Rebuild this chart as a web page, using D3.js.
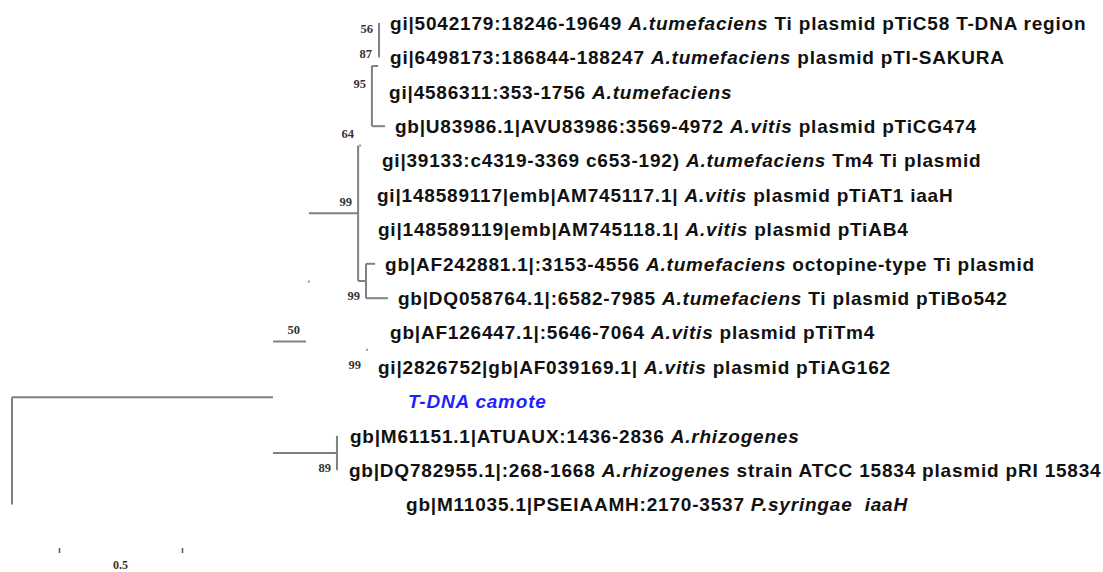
<!DOCTYPE html>
<html>
<head>
<meta charset="utf-8">
<script src="https://cdn.jsdelivr.net/npm/d3@7"></script>
<style>
  html, body { margin: 0; padding: 0; background: #fff; }
  svg { display: block; }
  text.leaf { white-space: pre; }
</style>
</head>
<body>
<svg id="chart" width="1103" height="572"></svg>
<script>
// ---------------- DATA ----------------
// Leaf labels, top to bottom. Segments alternate: normal, italic, normal, ...
const leafLabels = [
  ["gi|5042179:18246-19649 ", "A.tumefaciens", " Ti plasmid pTiC58 T-DNA region"],
  ["gi|6498173:186844-188247 ", "A.tumefaciens", " plasmid pTI-SAKURA"],
  ["gi|4586311:353-1756 ", "A.tumefaciens"],
  ["gb|U83986.1|AVU83986:3569-4972 ", "A.vitis", " plasmid pTiCG474"],
  ["gi|39133:c4319-3369 c653-192) ", "A.tumefaciens", " Tm4 Ti plasmid"],
  ["gi|148589117|emb|AM745117.1| ", "A.vitis", " plasmid pTiAT1 iaaH"],
  ["gi|148589119|emb|AM745118.1| ", "A.vitis", " plasmid pTiAB4"],
  ["gb|AF242881.1|:3153-4556 ", "A.tumefaciens", " octopine-type Ti plasmid"],
  ["gb|DQ058764.1|:6582-7985 ", "A.tumefaciens", " Ti plasmid pTiBo542"],
  ["gb|AF126447.1|:5646-7064 ", "A.vitis", " plasmid pTiTm4"],
  ["gi|2826752|gb|AF039169.1| ", "A.vitis", " plasmid pTiAG162"],
  ["", "T-DNA camote"],
  ["gb|M61151.1|ATUAUX:1436-2836 ", "A.rhizogenes"],
  ["gb|DQ782955.1|:268-1668 ", "A.rhizogenes", " strain ATCC 15834 plasmid pRI 15834"],
  ["gb|M11035.1|PSEIAAMH:2170-3537 ", "P.syringae  iaaH"]
];

// Tree nodes: id, parent, cumulative distance from root (substitutions/site)
const nodeIds     = ["root","N1","N2","X","N3","N5","C","B","A","L1","L2","L3","L4","L5","L6","L7","N4","L8","L9","Y","L10","L11","L12","R","L13","L14","L15"];
const nodeParents = ["",    "root","N1","N2","X","N3","N5","C","B","A","A","B","C","N5","N5","N3","N3","N4","N4","X","Y","Y","N2","N1","R","R","root"];
const nodeDist    = [0, 1.061, 1.195, 1.207, 1.407, 1.415, 1.463, 1.488, 1.492, 1.496, 1.496, 1.492, 1.516, 1.463, 1.443, 1.447, 1.439, 1.476, 1.528, 1.443, 1.496, 1.447, 1.569, 1.321, 1.333, 1.329, 1.561];

// Bootstrap support values
const bootNodes  = ["A", "B", "C", "N5", "N3", "N4", "N2", "Y", "R"];
const bootValues = [56, 87, 95, 64, 99, 99, 50, 99, 89];
const bootBelow  = ["N4", "Y", "R"];

// Branch pieces still legible in the source figure
const drawnHorizontal = ["N1", "N2", "N3", "B", "L4", "N4", "L8", "L9", "R"];
const drawnVertical   = ["root", "C", "A", "N3", "N4", "R"];
const nodeDots        = ["X", "N5", "Y"];

// Scale bar
const scaleBarStart = 0.191;
const scaleBarLength = 0.5;
const scaleBarLabel = "0.5";
const highlightLeaf = 11; // T-DNA camote

// ---------------- LAYOUT ----------------
const svg = d3.select("#chart");
svg.append("rect").attr("width", 1103).attr("height", 572).attr("fill", "#fff");

const x = d3.scaleLinear().domain([0, 1]).range([12, 258]);
const y = d3.scaleLinear().domain([0, leafLabels.length - 1]).range([23, 504.6]);

const flat = nodeIds.map((id, i) => ({ id, parent: nodeParents[i] || null, dist: nodeDist[i] }));
const root = d3.stratify().id(d => d.id).parentId(d => d.parent)(flat);

root.leaves().forEach((leaf, i) => { leaf.row = i; leaf.py = y(i); });
root.eachAfter(n => {
  if (n.children) {
    n.py = (n.children[0].py + n.children[n.children.length - 1].py) / 2;
  }
  n.px = x(n.data.dist);
});
const byId = new Map(root.descendants().map(n => [n.id, n]));

const lineColor = "#808080";
const g = svg.append("g");

// horizontal branches
g.selectAll("line.h")
  .data(root.descendants().filter(n => n.parent && drawnHorizontal.includes(n.id)))
  .join("line")
  .attr("class", "h")
  .attr("x1", n => n.parent.px).attr("x2", n => n.px)
  .attr("y1", n => n.py).attr("y2", n => n.py)
  .attr("stroke", lineColor).attr("stroke-width", 2);

// vertical connectors
g.selectAll("line.v")
  .data(root.descendants().filter(n => n.children && drawnVertical.includes(n.id)))
  .join("line")
  .attr("class", "v")
  .attr("x1", n => n.px).attr("x2", n => n.px)
  .attr("y1", n => n.children[0].py).attr("y2", n => n.children[n.children.length - 1].py)
  .attr("stroke", lineColor).attr("stroke-width", 2);

// faint node remnants
g.selectAll("rect.dot")
  .data(nodeDots.map(id => byId.get(id)))
  .join("rect")
  .attr("class", "dot")
  .attr("x", n => n.px - 1).attr("y", n => n.py - 1)
  .attr("width", 2).attr("height", 2)
  .attr("fill", "#999");

// leaf labels
const labels = g.selectAll("text.leaf")
  .data(root.leaves())
  .join("text")
  .attr("class", "leaf")
  .attr("x", n => n.px + 10)
  .attr("y", n => n.py)
  .attr("dy", "0.36em")
  .attr("font-family", "'Liberation Sans', Arial, sans-serif")
  .attr("font-weight", "bold")
  .attr("font-size", 19)
  .attr("letter-spacing", 0.8)
  .attr("fill", n => n.row === highlightLeaf ? "#1f1fff" : "#111");

labels.each(function(n) {
  const parts = leafLabels[n.row];
  const t = d3.select(this);
  parts.forEach((p, i) => {
    if (!p) return;
    t.append("tspan")
      .attr("font-style", (i % 2 === 1) ? "italic" : "normal")
      .text(p);
  });
});

// bootstrap values
g.selectAll("text.boot")
  .data(bootNodes.map((id, i) => ({ node: byId.get(id), value: bootValues[i], below: bootBelow.includes(id) })))
  .join("text")
  .attr("class", "boot")
  .attr("x", d => d.node.px - 6)
  .attr("y", d => d.node.py + (d.below ? 15 : -12))
  .attr("dy", "0.35em")
  .attr("text-anchor", "end")
  .attr("font-family", "'Liberation Serif', 'Times New Roman', serif")
  .attr("font-weight", "bold")
  .attr("font-size", 12.5)
  .attr("fill", "#333")
  .text(d => d.value);

// scale bar (bar line itself faded in the source; only end ticks remain)
const sb = d3.scaleLinear()
  .domain([0, scaleBarLength])
  .range([x(scaleBarStart), x(scaleBarStart + scaleBarLength)]);
const axis = d3.axisBottom(sb).tickValues([0, scaleBarLength]).tickSize(5).tickFormat("");
const ag = svg.append("g").attr("transform", "translate(0,548)").call(axis);
ag.select(".domain").remove();
ag.selectAll(".tick line").attr("stroke", "#555").attr("stroke-width", 1.5);
svg.append("text")
  .attr("x", sb(scaleBarLength / 2))
  .attr("y", 565)
  .attr("dy", "0.35em")
  .attr("text-anchor", "middle")
  .attr("font-family", "'Liberation Serif', 'Times New Roman', serif")
  .attr("font-weight", "bold")
  .attr("font-size", 12)
  .attr("fill", "#333")
  .text(scaleBarLabel);
</script>
</body>
</html>
